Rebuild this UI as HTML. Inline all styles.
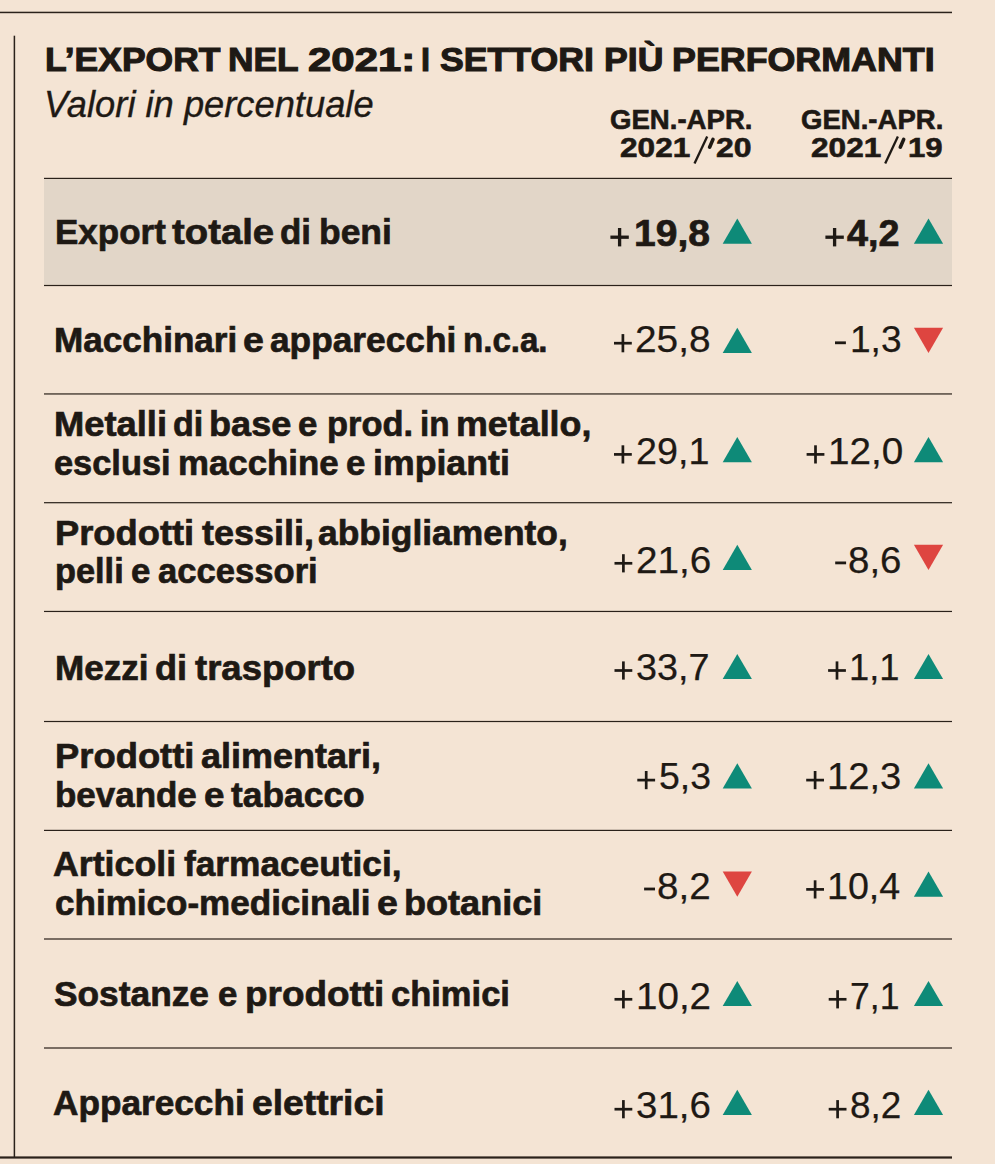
<!DOCTYPE html>
<html><head><meta charset="utf-8"><style>
html,body{margin:0;padding:0;}
body{width:995px;height:1164px;background:#F4E4D4;position:relative;overflow:hidden;font-family:"Liberation Sans",sans-serif;color:#1E1914;}
.t{position:absolute;white-space:nowrap;transform-origin:0 0;}
.l{position:absolute;}
</style></head><body>
<svg class="l" style="left:0;top:0" width="995" height="1164" viewBox="0 0 995 1164"><rect x="44" y="178.4" width="908" height="107.1" fill="#E2D6C8"/><rect x="0" y="11.70" width="952" height="1.5" fill="#2A211A"/><rect x="13.65" y="35.7" width="1.5" height="1121.8" fill="#2A211A"/><rect x="0" y="1156.40" width="952" height="2.2" fill="#2A211A"/><rect x="44" y="177.80" width="908" height="1.2" fill="#2A211A"/><rect x="44" y="284.90" width="908" height="1.2" fill="#2A211A"/><rect x="44" y="393.35" width="908" height="1.2" fill="#2A211A"/><rect x="44" y="502.10" width="908" height="1.2" fill="#2A211A"/><rect x="44" y="610.85" width="908" height="1.2" fill="#2A211A"/><rect x="44" y="720.90" width="908" height="1.2" fill="#2A211A"/><rect x="44" y="829.80" width="908" height="1.2" fill="#2A211A"/><rect x="44" y="938.40" width="908" height="1.2" fill="#2A211A"/><rect x="44" y="1047.40" width="908" height="1.2" fill="#2A211A"/><polygon points="722.70,243.75 737.30,218.55 751.90,243.75" fill="#0E8A78"/><polygon points="913.90,243.75 928.50,218.55 943.10,243.75" fill="#0E8A78"/><polygon points="722.70,352.95 737.30,327.75 751.90,352.95" fill="#0E8A78"/><polygon points="913.90,327.75 943.10,327.75 928.50,352.95" fill="#DE4540"/><polygon points="722.70,462.20 737.30,437.00 751.90,462.20" fill="#0E8A78"/><polygon points="913.90,462.20 928.50,437.00 943.10,462.20" fill="#0E8A78"/><polygon points="722.70,570.00 737.30,544.80 751.90,570.00" fill="#0E8A78"/><polygon points="913.90,544.80 943.10,544.80 928.50,570.00" fill="#DE4540"/><polygon points="722.70,679.10 737.30,653.90 751.90,679.10" fill="#0E8A78"/><polygon points="913.90,679.10 928.50,653.90 943.10,679.10" fill="#0E8A78"/><polygon points="722.70,788.40 737.30,763.20 751.90,788.40" fill="#0E8A78"/><polygon points="913.90,788.40 928.50,763.20 943.10,788.40" fill="#0E8A78"/><polygon points="722.70,871.45 751.90,871.45 737.30,896.65" fill="#DE4540"/><polygon points="913.90,896.65 928.50,871.45 943.10,896.65" fill="#0E8A78"/><polygon points="722.70,1006.10 737.30,980.90 751.90,1006.10" fill="#0E8A78"/><polygon points="913.90,1006.10 928.50,980.90 943.10,1006.10" fill="#0E8A78"/><polygon points="722.70,1115.00 737.30,1089.80 751.90,1115.00" fill="#0E8A78"/><polygon points="913.90,1115.00 928.50,1089.80 943.10,1115.00" fill="#0E8A78"/><line x1="707.20" y1="136.4" x2="694.50" y2="163.5" stroke="#1E1914" stroke-width="2.3"/><line x1="713.00" y1="139.4" x2="709.60" y2="147.2" stroke="#1E1914" stroke-width="3.6" stroke-linecap="round"/><line x1="897.90" y1="136.4" x2="885.20" y2="163.5" stroke="#1E1914" stroke-width="2.3"/><line x1="903.70" y1="139.4" x2="900.30" y2="147.2" stroke="#1E1914" stroke-width="3.6" stroke-linecap="round"/><rect x="610.40" y="235.55" width="18.4" height="3.3" fill="#1E1914"/><rect x="617.95" y="228.00" width="3.3" height="18.4" fill="#1E1914"/><rect x="825.40" y="235.55" width="18.4" height="3.3" fill="#1E1914"/><rect x="832.95" y="228.00" width="3.3" height="18.4" fill="#1E1914"/><rect x="614.00" y="341.85" width="17.8" height="2.7" fill="#1E1914"/><rect x="621.55" y="334.10" width="2.7" height="18.2" fill="#1E1914"/><rect x="835.00" y="341.40" width="10.9" height="2.8" fill="#1E1914"/><rect x="614.00" y="453.05" width="17.8" height="2.7" fill="#1E1914"/><rect x="621.55" y="445.30" width="2.7" height="18.2" fill="#1E1914"/><rect x="806.60" y="453.05" width="17.8" height="2.7" fill="#1E1914"/><rect x="814.15" y="445.30" width="2.7" height="18.2" fill="#1E1914"/><rect x="614.50" y="561.95" width="17.8" height="2.7" fill="#1E1914"/><rect x="622.05" y="554.20" width="2.7" height="18.2" fill="#1E1914"/><rect x="835.20" y="561.50" width="10.9" height="2.8" fill="#1E1914"/><rect x="614.50" y="669.15" width="17.8" height="2.7" fill="#1E1914"/><rect x="622.05" y="661.40" width="2.7" height="18.2" fill="#1E1914"/><rect x="828.10" y="669.15" width="17.8" height="2.7" fill="#1E1914"/><rect x="835.65" y="661.40" width="2.7" height="18.2" fill="#1E1914"/><rect x="637.30" y="778.75" width="17.8" height="2.7" fill="#1E1914"/><rect x="644.85" y="771.00" width="2.7" height="18.2" fill="#1E1914"/><rect x="806.20" y="778.75" width="17.8" height="2.7" fill="#1E1914"/><rect x="813.75" y="771.00" width="2.7" height="18.2" fill="#1E1914"/><rect x="644.10" y="887.60" width="10.9" height="2.8" fill="#1E1914"/><rect x="806.20" y="888.05" width="17.8" height="2.7" fill="#1E1914"/><rect x="813.75" y="880.30" width="2.7" height="18.2" fill="#1E1914"/><rect x="614.50" y="997.95" width="17.8" height="2.7" fill="#1E1914"/><rect x="622.05" y="990.20" width="2.7" height="18.2" fill="#1E1914"/><rect x="828.70" y="997.95" width="17.8" height="2.7" fill="#1E1914"/><rect x="836.25" y="990.20" width="2.7" height="18.2" fill="#1E1914"/><rect x="614.50" y="1107.85" width="17.8" height="2.7" fill="#1E1914"/><rect x="622.05" y="1100.10" width="2.7" height="18.2" fill="#1E1914"/><rect x="828.70" y="1107.85" width="17.8" height="2.7" fill="#1E1914"/><rect x="836.25" y="1100.10" width="2.7" height="18.2" fill="#1E1914"/></svg>
<div class="t" style="left:44.66px;top:42.76px;font-size:33.3px;line-height:33.3px;font-weight:bold;font-style:normal;transform:scaleX(1.0653);-webkit-text-stroke:1.1px #1E1914;">L’EXPORT</div>
<div class="t" style="left:227.76px;top:42.76px;font-size:33.3px;line-height:33.3px;font-weight:bold;font-style:normal;transform:scaleX(1.0619);-webkit-text-stroke:1.1px #1E1914;">NEL</div>
<div class="t" style="left:307.73px;top:42.76px;font-size:33.3px;line-height:33.3px;font-weight:bold;font-style:normal;transform:scaleX(1.2595);-webkit-text-stroke:1.1px #1E1914;">2021:</div>
<div class="t" style="left:421.49px;top:42.76px;font-size:33.3px;line-height:33.3px;font-weight:bold;font-style:normal;transform:scaleX(0.9718);-webkit-text-stroke:1.1px #1E1914;">I</div>
<div class="t" style="left:440.09px;top:42.76px;font-size:33.3px;line-height:33.3px;font-weight:bold;font-style:normal;transform:scaleX(1.0708);-webkit-text-stroke:1.1px #1E1914;">SETTORI</div>
<div class="t" style="left:603.75px;top:42.76px;font-size:33.3px;line-height:33.3px;font-weight:bold;font-style:normal;transform:scaleX(1.0698);-webkit-text-stroke:1.1px #1E1914;">PIÙ</div>
<div class="t" style="left:672.24px;top:42.76px;font-size:33.3px;line-height:33.3px;font-weight:bold;font-style:normal;transform:scaleX(1.0756);-webkit-text-stroke:1.1px #1E1914;">PERFORMANTI</div>
<div class="t" style="left:44.37px;top:86.56px;font-size:36.2px;line-height:36.2px;font-weight:normal;font-style:italic;transform:scaleX(1.0031);-webkit-text-stroke:0.35px #1E1914;">Valori in percentuale</div>
<div class="t" style="left:609.58px;top:106.91px;font-size:26.8px;line-height:26.8px;font-weight:bold;font-style:normal;transform:scaleX(1.0292);-webkit-text-stroke:0.6px #1E1914;">GEN.-APR.</div>
<div class="t" style="left:620.25px;top:135.31px;font-size:26.8px;line-height:26.8px;font-weight:bold;font-style:normal;transform:scaleX(1.1789);-webkit-text-stroke:0.6px #1E1914;">2021</div>
<div class="t" style="left:715.96px;top:135.31px;font-size:26.8px;line-height:26.8px;font-weight:bold;font-style:normal;transform:scaleX(1.1931);-webkit-text-stroke:0.6px #1E1914;">20</div>
<div class="t" style="left:800.88px;top:106.91px;font-size:26.8px;line-height:26.8px;font-weight:bold;font-style:normal;transform:scaleX(1.0277);-webkit-text-stroke:0.6px #1E1914;">GEN.-APR.</div>
<div class="t" style="left:810.95px;top:135.31px;font-size:26.8px;line-height:26.8px;font-weight:bold;font-style:normal;transform:scaleX(1.1789);-webkit-text-stroke:0.6px #1E1914;">2021</div>
<div class="t" style="left:908.29px;top:135.31px;font-size:26.8px;line-height:26.8px;font-weight:bold;font-style:normal;transform:scaleX(1.1613);-webkit-text-stroke:0.6px #1E1914;">19</div>
<div class="t" style="left:54.68px;top:215.46px;font-size:35.6px;line-height:35.6px;font-weight:bold;font-style:normal;transform:scaleX(0.9836);-webkit-text-stroke:0.7px #1E1914;">Export</div>
<div class="t" style="left:171.78px;top:215.46px;font-size:35.6px;line-height:35.6px;font-weight:bold;font-style:normal;transform:scaleX(1.0760);-webkit-text-stroke:0.7px #1E1914;">totale</div>
<div class="t" style="left:280.46px;top:215.46px;font-size:35.6px;line-height:35.6px;font-weight:bold;font-style:normal;transform:scaleX(0.9819);-webkit-text-stroke:0.7px #1E1914;">di</div>
<div class="t" style="left:318.86px;top:215.46px;font-size:35.6px;line-height:35.6px;font-weight:bold;font-style:normal;transform:scaleX(0.9964);-webkit-text-stroke:0.7px #1E1914;">beni</div>
<div class="t" style="left:53.97px;top:323.46px;font-size:35.6px;line-height:35.6px;font-weight:bold;font-style:normal;transform:scaleX(0.9859);-webkit-text-stroke:0.7px #1E1914;">Macchinari</div>
<div class="t" style="left:243.42px;top:323.46px;font-size:35.6px;line-height:35.6px;font-weight:bold;font-style:normal;transform:scaleX(1.0535);-webkit-text-stroke:0.7px #1E1914;">e</div>
<div class="t" style="left:270.26px;top:323.46px;font-size:35.6px;line-height:35.6px;font-weight:bold;font-style:normal;transform:scaleX(0.9915);-webkit-text-stroke:0.7px #1E1914;">apparecchi</div>
<div class="t" style="left:463.07px;top:323.46px;font-size:35.6px;line-height:35.6px;font-weight:bold;font-style:normal;transform:scaleX(0.9296);-webkit-text-stroke:0.7px #1E1914;">n.c.a.</div>
<div class="t" style="left:53.92px;top:406.66px;font-size:35.6px;line-height:35.6px;font-weight:bold;font-style:normal;transform:scaleX(1.0211);-webkit-text-stroke:0.7px #1E1914;">Metalli</div>
<div class="t" style="left:173.18px;top:406.66px;font-size:35.6px;line-height:35.6px;font-weight:bold;font-style:normal;transform:scaleX(0.9581);-webkit-text-stroke:0.7px #1E1914;">di</div>
<div class="t" style="left:208.73px;top:406.66px;font-size:35.6px;line-height:35.6px;font-weight:bold;font-style:normal;transform:scaleX(1.0151);-webkit-text-stroke:0.7px #1E1914;">base</div>
<div class="t" style="left:298.36px;top:406.66px;font-size:35.6px;line-height:35.6px;font-weight:bold;font-style:normal;transform:scaleX(0.9786);-webkit-text-stroke:0.7px #1E1914;">e</div>
<div class="t" style="left:326.80px;top:406.66px;font-size:35.6px;line-height:35.6px;font-weight:bold;font-style:normal;transform:scaleX(0.9680);-webkit-text-stroke:0.7px #1E1914;">prod.</div>
<div class="t" style="left:419.76px;top:406.66px;font-size:35.6px;line-height:35.6px;font-weight:bold;font-style:normal;transform:scaleX(0.9341);-webkit-text-stroke:0.7px #1E1914;">in</div>
<div class="t" style="left:456.24px;top:406.66px;font-size:35.6px;line-height:35.6px;font-weight:bold;font-style:normal;transform:scaleX(1.0072);-webkit-text-stroke:0.7px #1E1914;">metallo,</div>
<div class="t" style="left:54.47px;top:445.66px;font-size:35.6px;line-height:35.6px;font-weight:bold;font-style:normal;transform:scaleX(0.9665);-webkit-text-stroke:0.7px #1E1914;">esclusi</div>
<div class="t" style="left:177.79px;top:445.66px;font-size:35.6px;line-height:35.6px;font-weight:bold;font-style:normal;transform:scaleX(0.9787);-webkit-text-stroke:0.7px #1E1914;">macchine</div>
<div class="t" style="left:345.76px;top:445.66px;font-size:35.6px;line-height:35.6px;font-weight:bold;font-style:normal;transform:scaleX(0.9786);-webkit-text-stroke:0.7px #1E1914;">e</div>
<div class="t" style="left:372.95px;top:445.66px;font-size:35.6px;line-height:35.6px;font-weight:bold;font-style:normal;transform:scaleX(1.0030);-webkit-text-stroke:0.7px #1E1914;">impianti</div>
<div class="t" style="left:54.52px;top:515.86px;font-size:35.6px;line-height:35.6px;font-weight:bold;font-style:normal;transform:scaleX(1.0205);-webkit-text-stroke:0.7px #1E1914;">Prodotti</div>
<div class="t" style="left:202.25px;top:515.86px;font-size:35.6px;line-height:35.6px;font-weight:bold;font-style:normal;transform:scaleX(1.0113);-webkit-text-stroke:0.7px #1E1914;">tessili,</div>
<div class="t" style="left:317.65px;top:515.86px;font-size:35.6px;line-height:35.6px;font-weight:bold;font-style:normal;transform:scaleX(0.9949);-webkit-text-stroke:0.7px #1E1914;">abbigliamento,</div>
<div class="t" style="left:54.61px;top:554.46px;font-size:35.6px;line-height:35.6px;font-weight:bold;font-style:normal;transform:scaleX(0.9649);-webkit-text-stroke:0.7px #1E1914;">pelli</div>
<div class="t" style="left:130.96px;top:554.46px;font-size:35.6px;line-height:35.6px;font-weight:bold;font-style:normal;transform:scaleX(0.9786);-webkit-text-stroke:0.7px #1E1914;">e</div>
<div class="t" style="left:157.67px;top:554.46px;font-size:35.6px;line-height:35.6px;font-weight:bold;font-style:normal;transform:scaleX(0.9728);-webkit-text-stroke:0.7px #1E1914;">accessori</div>
<div class="t" style="left:54.67px;top:650.66px;font-size:35.6px;line-height:35.6px;font-weight:bold;font-style:normal;transform:scaleX(0.9858);-webkit-text-stroke:0.7px #1E1914;">Mezzi</div>
<div class="t" style="left:154.84px;top:650.66px;font-size:35.6px;line-height:35.6px;font-weight:bold;font-style:normal;transform:scaleX(1.0159);-webkit-text-stroke:0.7px #1E1914;">di</div>
<div class="t" style="left:194.56px;top:650.66px;font-size:35.6px;line-height:35.6px;font-weight:bold;font-style:normal;transform:scaleX(1.0255);-webkit-text-stroke:0.7px #1E1914;">trasporto</div>
<div class="t" style="left:54.61px;top:738.66px;font-size:35.6px;line-height:35.6px;font-weight:bold;font-style:normal;transform:scaleX(1.0228);-webkit-text-stroke:0.7px #1E1914;">Prodotti</div>
<div class="t" style="left:200.54px;top:738.66px;font-size:35.6px;line-height:35.6px;font-weight:bold;font-style:normal;transform:scaleX(1.0109);-webkit-text-stroke:0.7px #1E1914;">alimentari,</div>
<div class="t" style="left:54.68px;top:777.66px;font-size:35.6px;line-height:35.6px;font-weight:bold;font-style:normal;transform:scaleX(0.9820);-webkit-text-stroke:0.7px #1E1914;">bevande</div>
<div class="t" style="left:204.13px;top:777.66px;font-size:35.6px;line-height:35.6px;font-weight:bold;font-style:normal;transform:scaleX(1.0321);-webkit-text-stroke:0.7px #1E1914;">e</div>
<div class="t" style="left:231.45px;top:777.66px;font-size:35.6px;line-height:35.6px;font-weight:bold;font-style:normal;transform:scaleX(0.9946);-webkit-text-stroke:0.7px #1E1914;">tabacco</div>
<div class="t" style="left:53.35px;top:847.46px;font-size:35.6px;line-height:35.6px;font-weight:bold;font-style:normal;transform:scaleX(1.0043);-webkit-text-stroke:0.7px #1E1914;">Articoli</div>
<div class="t" style="left:184.05px;top:847.46px;font-size:35.6px;line-height:35.6px;font-weight:bold;font-style:normal;transform:scaleX(0.9908);-webkit-text-stroke:0.7px #1E1914;">farmaceutici,</div>
<div class="t" style="left:54.96px;top:886.46px;font-size:35.6px;line-height:35.6px;font-weight:bold;font-style:normal;transform:scaleX(0.9849);-webkit-text-stroke:0.7px #1E1914;">chimico-medicinali</div>
<div class="t" style="left:376.72px;top:886.46px;font-size:35.6px;line-height:35.6px;font-weight:bold;font-style:normal;transform:scaleX(1.0535);-webkit-text-stroke:0.7px #1E1914;">e</div>
<div class="t" style="left:403.83px;top:886.46px;font-size:35.6px;line-height:35.6px;font-weight:bold;font-style:normal;transform:scaleX(1.0142);-webkit-text-stroke:0.7px #1E1914;">botanici</div>
<div class="t" style="left:54.46px;top:976.86px;font-size:35.6px;line-height:35.6px;font-weight:bold;font-style:normal;transform:scaleX(0.9922);-webkit-text-stroke:0.7px #1E1914;">Sostanze</div>
<div class="t" style="left:218.16px;top:976.86px;font-size:35.6px;line-height:35.6px;font-weight:bold;font-style:normal;transform:scaleX(0.9786);-webkit-text-stroke:0.7px #1E1914;">e</div>
<div class="t" style="left:245.29px;top:976.86px;font-size:35.6px;line-height:35.6px;font-weight:bold;font-style:normal;transform:scaleX(1.0368);-webkit-text-stroke:0.7px #1E1914;">prodotti</div>
<div class="t" style="left:390.77px;top:976.86px;font-size:35.6px;line-height:35.6px;font-weight:bold;font-style:normal;transform:scaleX(0.9700);-webkit-text-stroke:0.7px #1E1914;">chimici</div>
<div class="t" style="left:53.35px;top:1086.26px;font-size:35.6px;line-height:35.6px;font-weight:bold;font-style:normal;transform:scaleX(0.9892);-webkit-text-stroke:0.7px #1E1914;">Apparecchi</div>
<div class="t" style="left:251.52px;top:1086.26px;font-size:35.6px;line-height:35.6px;font-weight:bold;font-style:normal;transform:scaleX(1.0469);-webkit-text-stroke:0.7px #1E1914;">elettrici</div>
<div class="t" style="left:634.04px;top:216.22px;font-size:36.6px;line-height:36.6px;font-weight:bold;font-style:normal;transform:scaleX(1.0676);-webkit-text-stroke:0.7px #1E1914;">19,8</div>
<div class="t" style="left:847.46px;top:216.22px;font-size:36.6px;line-height:36.6px;font-weight:bold;font-style:normal;transform:scaleX(1.0318);-webkit-text-stroke:0.7px #1E1914;">4,2</div>
<div class="t" style="left:635.47px;top:322.42px;font-size:36.6px;line-height:36.6px;font-weight:normal;font-style:normal;transform:scaleX(1.0615);-webkit-text-stroke:0.25px #1E1914;">25,8</div>
<div class="t" style="left:850.20px;top:322.42px;font-size:36.6px;line-height:36.6px;font-weight:normal;font-style:normal;transform:scaleX(1.0135);-webkit-text-stroke:0.25px #1E1914;">1,3</div>
<div class="t" style="left:635.50px;top:433.62px;font-size:36.6px;line-height:36.6px;font-weight:normal;font-style:normal;transform:scaleX(1.0304);-webkit-text-stroke:0.25px #1E1914;">29,1</div>
<div class="t" style="left:827.62px;top:433.62px;font-size:36.6px;line-height:36.6px;font-weight:normal;font-style:normal;transform:scaleX(1.0573);-webkit-text-stroke:0.25px #1E1914;">12,0</div>
<div class="t" style="left:635.97px;top:542.52px;font-size:36.6px;line-height:36.6px;font-weight:normal;font-style:normal;transform:scaleX(1.0586);-webkit-text-stroke:0.25px #1E1914;">21,6</div>
<div class="t" style="left:848.08px;top:542.52px;font-size:36.6px;line-height:36.6px;font-weight:normal;font-style:normal;transform:scaleX(1.0522);-webkit-text-stroke:0.25px #1E1914;">8,6</div>
<div class="t" style="left:636.00px;top:649.72px;font-size:36.6px;line-height:36.6px;font-weight:normal;font-style:normal;transform:scaleX(1.0319);-webkit-text-stroke:0.25px #1E1914;">33,7</div>
<div class="t" style="left:849.24px;top:649.72px;font-size:36.6px;line-height:36.6px;font-weight:normal;font-style:normal;transform:scaleX(0.9926);-webkit-text-stroke:0.25px #1E1914;">1,1</div>
<div class="t" style="left:658.80px;top:759.32px;font-size:36.6px;line-height:36.6px;font-weight:normal;font-style:normal;transform:scaleX(1.0235);-webkit-text-stroke:0.25px #1E1914;">5,3</div>
<div class="t" style="left:827.24px;top:759.32px;font-size:36.6px;line-height:36.6px;font-weight:normal;font-style:normal;transform:scaleX(1.0441);-webkit-text-stroke:0.25px #1E1914;">12,3</div>
<div class="t" style="left:656.98px;top:868.62px;font-size:36.6px;line-height:36.6px;font-weight:normal;font-style:normal;transform:scaleX(1.0542);-webkit-text-stroke:0.25px #1E1914;">8,2</div>
<div class="t" style="left:827.27px;top:868.62px;font-size:36.6px;line-height:36.6px;font-weight:normal;font-style:normal;transform:scaleX(1.0290);-webkit-text-stroke:0.25px #1E1914;">10,4</div>
<div class="t" style="left:635.52px;top:978.52px;font-size:36.6px;line-height:36.6px;font-weight:normal;font-style:normal;transform:scaleX(1.0544);-webkit-text-stroke:0.25px #1E1914;">10,2</div>
<div class="t" style="left:850.25px;top:978.52px;font-size:36.6px;line-height:36.6px;font-weight:normal;font-style:normal;transform:scaleX(0.9722);-webkit-text-stroke:0.25px #1E1914;">7,1</div>
<div class="t" style="left:635.98px;top:1088.42px;font-size:36.6px;line-height:36.6px;font-weight:normal;font-style:normal;transform:scaleX(1.0521);-webkit-text-stroke:0.25px #1E1914;">31,6</div>
<div class="t" style="left:850.22px;top:1088.42px;font-size:36.6px;line-height:36.6px;font-weight:normal;font-style:normal;transform:scaleX(1.0091);-webkit-text-stroke:0.25px #1E1914;">8,2</div>
</body></html>
